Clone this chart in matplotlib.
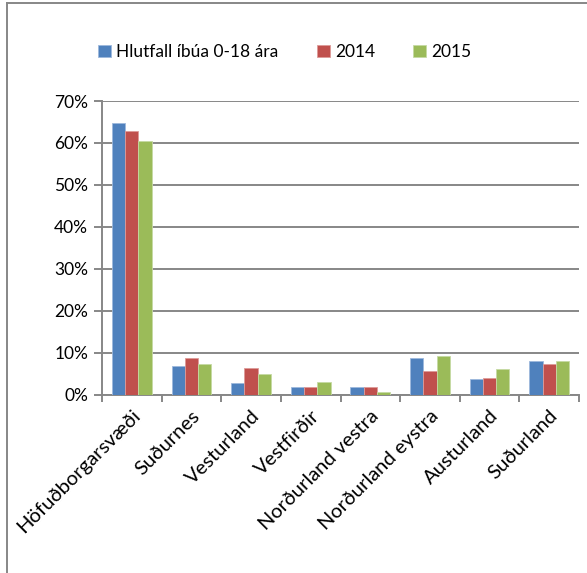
import matplotlib
matplotlib.use("Agg")
from matplotlib import pyplot as plt
from matplotlib.lines import Line2D
from matplotlib.ticker import FuncFormatter
import numpy as np

regions = ['Höfuðborgarsvæði', 'Suðurnes', 'Vesturland', 'Vestfirðir',
           'Norðurland vestra', 'Norðurland eystra', 'Austurland', 'Suðurland']
series_names = ['Hlutfall íbúa 0-18 ára', '2014', '2015']
share_0_18 = [0.648, 0.068, 0.028, 0.018, 0.018, 0.088, 0.038, 0.079]
share_2014 = [0.628, 0.088, 0.064, 0.019, 0.019, 0.055, 0.040, 0.073]
share_2015 = [0.605, 0.072, 0.048, 0.030, 0.006, 0.092, 0.060, 0.080]
colors = ['#4F81BD', '#C0504D', '#9BBB59']
edges = ['#9DB8DC', '#DD9A98', '#C6DAA3']

plt.rcParams['font.family'] = ['Lato', 'DejaVu Sans']

fig = plt.figure(figsize=(5.87, 5.73), dpi=100)
ax = fig.add_axes([102 / 587, 1 - 394.5 / 573, 477 / 587, 293.5 / 573])

x = np.arange(len(regions))
w = 1 / 4.5
for i, vals in enumerate([share_0_18, share_2014, share_2015]):
    ax.bar(x + (i - 1) * w, vals, width=w, color=colors[i],
           edgecolor=edges[i], linewidth=0.6, label=series_names[i], zorder=3)

ax.set_xlim(-0.5, len(regions) - 0.5)
ax.set_ylim(0, 0.70)
ax.set_yticks(np.arange(0, 0.71, 0.10))
ax.yaxis.set_major_formatter(FuncFormatter(lambda v, p: f'{v * 100:.0f}%'))
ax.grid(axis='y', color='#878787', linewidth=1.4, zorder=0)

# category boundary ticks
ax.set_xticks(np.arange(-0.5, len(regions), 1.0))
ax.set_xticklabels([])
ax.set_xticks(x, minor=True)
ax.set_xticklabels(regions, minor=True, rotation=45, ha='right', va='top',
                   rotation_mode='anchor', fontsize=14.5)
ax.tick_params(axis='x', which='minor', length=0, pad=9)
ax.tick_params(axis='x', which='major', length=5, width=1.4, color='#878787')
ax.tick_params(axis='y', length=6, width=1.4, color='#878787', labelsize=12.5, pad=4)

for s in ['top', 'right']:
    ax.spines[s].set_visible(False)
for s in ['left', 'bottom']:
    ax.spines[s].set_color('#878787')
    ax.spines[s].set_linewidth(1.4)

ax.legend(loc='center', bbox_to_anchor=(285 / 587, 1 - 52 / 573),
          bbox_transform=fig.transFigure, ncol=3, frameon=False,
          fontsize=12.5, handlelength=0.75, handleheight=0.75,
          handletextpad=0.3, columnspacing=2.2)

# chart border (left and top visible)
fig.add_artist(Line2D([7 / 587, 7 / 587], [0, 1 - 3 / 573],
                      transform=fig.transFigure, color='#878787', linewidth=1.4))
fig.add_artist(Line2D([7 / 587, 1], [1 - 3 / 573, 1 - 3 / 573],
                      transform=fig.transFigure, color='#878787', linewidth=1.4))

fig.savefig('out.png', dpi=100)
